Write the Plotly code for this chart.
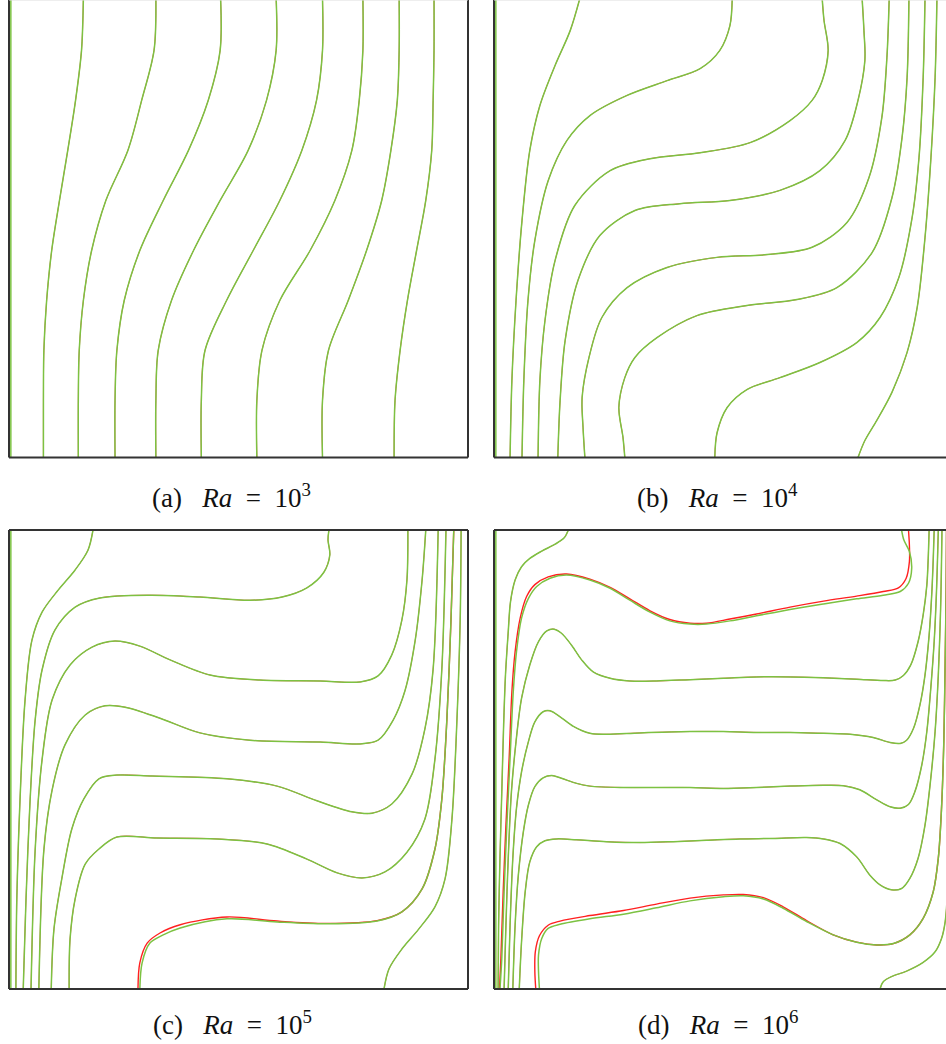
import plotly.graph_objects as go

GREEN = "#7cc242"
RED = "#ff2020"
BORDER = "#333333"

# ---------------- Panel (a)  Ra = 1e3 : isotherms sampled at common heights
A_Y = [1.0, 0.887, 0.778, 0.669, 0.560, 0.451, 0.342, 0.233, 0.124, 0.0]
A_X = [
    [0.162, 0.158, 0.145, 0.128, 0.110, 0.093, 0.082, 0.076, 0.075, 0.075],
    [0.320, 0.316, 0.289, 0.259, 0.211, 0.180, 0.162, 0.153, 0.151, 0.151],
    [0.461, 0.460, 0.434, 0.391, 0.336, 0.285, 0.251, 0.235, 0.231, 0.231],
    [0.582, 0.582, 0.561, 0.521, 0.460, 0.402, 0.354, 0.325, 0.320, 0.320],
    [0.683, 0.683, 0.670, 0.638, 0.590, 0.532, 0.474, 0.427, 0.419, 0.419],
    [0.771, 0.771, 0.763, 0.747, 0.710, 0.656, 0.590, 0.551, 0.540, 0.540],
    [0.850, 0.850, 0.846, 0.832, 0.812, 0.779, 0.739, 0.696, 0.683, 0.683],
    [0.926, 0.926, 0.924, 0.921, 0.908, 0.888, 0.868, 0.852, 0.841, 0.839],
]

# ---------------- Panel (b)  Ra = 1e4
B_X = [
    [0.187, 0.166, 0.133, 0.100, 0.078, 0.061, 0.048, 0.039, 0.035],
    [0.061, 0.065, 0.074, 0.089, 0.118, 0.159, 0.209, 0.290, 0.377, 0.449, 0.492, 0.514, 0.519],
    [0.096, 0.100, 0.111, 0.133, 0.176, 0.253, 0.340, 0.449, 0.558, 0.645, 0.693, 0.715, 0.728, 0.719, 0.715],
    [0.139, 0.144, 0.155, 0.183, 0.231, 0.307, 0.405, 0.514, 0.623, 0.710, 0.765, 0.793, 0.808, 0.806, 0.802],
    [0.198, 0.194, 0.192, 0.207, 0.235, 0.290, 0.377, 0.486, 0.595, 0.693, 0.769, 0.817, 0.845, 0.856, 0.861],
    [0.285, 0.281, 0.272, 0.285, 0.307, 0.355, 0.442, 0.551, 0.660, 0.747, 0.824, 0.867, 0.889, 0.900, 0.904],
    [0.481, 0.486, 0.508, 0.551, 0.623, 0.710, 0.791, 0.841, 0.882, 0.911, 0.926, 0.935, 0.939],
    [0.793, 0.808, 0.834, 0.867, 0.900, 0.922, 0.939, 0.952, 0.961, 0.965],
]
B_Y = [
    [1.0, 0.930, 0.854, 0.767, 0.669, 0.516, 0.342, 0.168, 0.0],
    [0.0, 0.168, 0.342, 0.473, 0.603, 0.691, 0.745, 0.789, 0.821, 0.847, 0.887, 0.941, 1.0],
    [0.0, 0.168, 0.298, 0.429, 0.549, 0.625, 0.651, 0.664, 0.686, 0.734, 0.778, 0.821, 0.887, 0.952, 1.0],
    [0.0, 0.124, 0.255, 0.386, 0.484, 0.538, 0.553, 0.560, 0.582, 0.625, 0.691, 0.778, 0.865, 0.930, 1.0],
    [0.0, 0.065, 0.131, 0.218, 0.305, 0.370, 0.414, 0.436, 0.442, 0.458, 0.512, 0.610, 0.741, 0.871, 1.0],
    [0.0, 0.044, 0.109, 0.174, 0.218, 0.261, 0.309, 0.331, 0.344, 0.370, 0.447, 0.566, 0.697, 0.828, 1.0],
    [0.0, 0.054, 0.109, 0.148, 0.174, 0.207, 0.251, 0.305, 0.392, 0.523, 0.654, 0.828, 1.0],
    [0.0, 0.037, 0.081, 0.142, 0.229, 0.327, 0.479, 0.654, 0.828, 1.0],
]

# ---------------- Panel (c)  Ra = 1e5
C_X = [
    [0.183, 0.172, 0.144, 0.107, 0.072, 0.050, 0.035, 0.024, 0.017, 0.015],
    [0.031, 0.037, 0.046, 0.057, 0.072, 0.100, 0.144, 0.198, 0.307, 0.416, 0.525, 0.595, 0.649, 0.686, 0.699, 0.695, 0.697],
    [0.048, 0.057, 0.072, 0.094, 0.133, 0.181, 0.231, 0.285, 0.351, 0.438, 0.547, 0.678, 0.765, 0.804, 0.834, 0.856, 0.867, 0.869],
    [0.065, 0.076, 0.094, 0.122, 0.166, 0.209, 0.253, 0.329, 0.416, 0.525, 0.678, 0.765, 0.804, 0.837, 0.863, 0.885, 0.900, 0.908],
    [0.092, 0.098, 0.115, 0.137, 0.163, 0.196, 0.235, 0.312, 0.475, 0.584, 0.671, 0.747, 0.791, 0.834, 0.878, 0.906, 0.924, 0.935],
    [0.131, 0.133, 0.144, 0.166, 0.196, 0.235, 0.322, 0.453, 0.562, 0.649, 0.715, 0.769, 0.819, 0.867, 0.906, 0.928, 0.943, 0.952],
    [0.285, 0.290, 0.307, 0.336, 0.373, 0.475, 0.584, 0.693, 0.802, 0.856, 0.900, 0.928, 0.943, 0.954, 0.963, 0.969],
    [0.817, 0.828, 0.856, 0.893, 0.928, 0.950, 0.965, 0.976, 0.983, 0.985],
]
C_Y = [
    [1.0, 0.956, 0.913, 0.869, 0.821, 0.760, 0.630, 0.412, 0.194, 0.0],
    [0.0, 0.194, 0.412, 0.586, 0.695, 0.782, 0.832, 0.852, 0.858, 0.854, 0.847, 0.854, 0.874, 0.908, 0.946, 0.978, 1.0],
    [0.0, 0.303, 0.499, 0.630, 0.706, 0.745, 0.758, 0.747, 0.717, 0.684, 0.673, 0.671, 0.669, 0.682, 0.728, 0.804, 0.891, 1.0],
    [0.0, 0.303, 0.434, 0.532, 0.597, 0.617, 0.614, 0.590, 0.558, 0.542, 0.538, 0.534, 0.542, 0.586, 0.651, 0.760, 0.891, 1.0],
    [0.0, 0.131, 0.240, 0.349, 0.414, 0.458, 0.466, 0.464, 0.458, 0.442, 0.410, 0.386, 0.383, 0.403, 0.468, 0.566, 0.697, 1.0],
    [0.0, 0.109, 0.196, 0.272, 0.305, 0.331, 0.329, 0.327, 0.316, 0.283, 0.253, 0.242, 0.255, 0.298, 0.370, 0.501, 0.697, 1.0],
    [0.0, 0.057, 0.100, 0.118, 0.133, 0.153, 0.146, 0.142, 0.148, 0.168, 0.218, 0.305, 0.414, 0.588, 0.806, 1.0],
    [0.0, 0.044, 0.087, 0.131, 0.179, 0.240, 0.370, 0.588, 0.806, 1.0],
]
# red solution where it visibly departs from the green one (lowest isotherm)
C_RED7_X = [0.281, 0.285, 0.301, 0.329, 0.373, 0.475, 0.584, 0.693, 0.802, 0.856, 0.900, 0.928, 0.943, 0.954, 0.963, 0.969]
C_RED7_Y = [0.0, 0.057, 0.100, 0.122, 0.140, 0.157, 0.148, 0.143, 0.149, 0.168, 0.218, 0.305, 0.414, 0.588, 0.806, 1.0]

# ---------------- Panel (d)  Ra = 1e6
D_X = [
    [0.162, 0.153, 0.133, 0.104, 0.078, 0.060, 0.046, 0.036, 0.031, 0.025, 0.021, 0.017, 0.013, 0.010, 0.009],
    [0.013, 0.017, 0.022, 0.028, 0.035, 0.042, 0.049, 0.060, 0.075, 0.093, 0.122, 0.158, 0.209, 0.253, 0.296, 0.340,
     0.383, 0.427, 0.463, 0.514, 0.572, 0.645, 0.718, 0.790, 0.848, 0.885, 0.903, 0.910, 0.905, 0.893, 0.888],
    [0.022, 0.026, 0.031, 0.038, 0.048, 0.060, 0.078, 0.097, 0.115, 0.131, 0.147, 0.169, 0.191, 0.216, 0.253, 0.296,
     0.354, 0.427, 0.500, 0.572, 0.645, 0.718, 0.790, 0.848, 0.874, 0.892, 0.908, 0.924, 0.935, 0.943, 0.946, 0.948],
    [0.031, 0.035, 0.041, 0.049, 0.060, 0.075, 0.089, 0.107, 0.122, 0.144, 0.173, 0.209, 0.245, 0.318, 0.427, 0.500,
     0.572, 0.645, 0.718, 0.776, 0.826, 0.863, 0.885, 0.899, 0.914, 0.928, 0.939, 0.948, 0.954, 0.957, 0.959],
    [0.041, 0.046, 0.053, 0.064, 0.075, 0.089, 0.107, 0.126, 0.147, 0.180, 0.209, 0.282, 0.354, 0.427, 0.500, 0.572,
     0.645, 0.718, 0.761, 0.797, 0.834, 0.863, 0.885, 0.903, 0.917, 0.932, 0.943, 0.951, 0.959, 0.964, 0.968],
    [0.055, 0.060, 0.068, 0.078, 0.093, 0.111, 0.137, 0.180, 0.245, 0.318, 0.391, 0.463, 0.536, 0.609, 0.681, 0.718,
     0.754, 0.790, 0.819, 0.841, 0.866, 0.888, 0.906, 0.924, 0.939, 0.950, 0.961, 0.968, 0.973, 0.976],
    [0.099, 0.097, 0.097, 0.104, 0.118, 0.144, 0.209, 0.282, 0.354, 0.427, 0.500, 0.543, 0.587, 0.630, 0.681, 0.739,
     0.790, 0.834, 0.870, 0.906, 0.935, 0.957, 0.968, 0.975, 0.980, 0.983, 0.985, 0.986],
    [0.841, 0.848, 0.866, 0.899, 0.935, 0.961, 0.975, 0.983, 0.988, 0.991, 0.993, 0.995, 0.996],
]
D_Y = [
    [1.0, 0.983, 0.969, 0.954, 0.938, 0.920, 0.891, 0.844, 0.778, 0.684, 0.575, 0.430, 0.285, 0.139, 0.0],
    [0.0, 0.067, 0.212, 0.357, 0.503, 0.648, 0.735, 0.808, 0.851, 0.877, 0.895, 0.902, 0.891, 0.873, 0.847, 0.821,
     0.802, 0.795, 0.795, 0.802, 0.813, 0.827, 0.839, 0.850, 0.858, 0.866, 0.884, 0.916, 0.953, 0.978, 1.0],
    [0.0, 0.139, 0.285, 0.430, 0.539, 0.633, 0.706, 0.757, 0.780, 0.784, 0.775, 0.749, 0.717, 0.691, 0.677, 0.671,
     0.671, 0.674, 0.677, 0.680, 0.680, 0.678, 0.675, 0.672, 0.673, 0.683, 0.706, 0.757, 0.815, 0.880, 0.938, 1.0],
    [0.0, 0.139, 0.285, 0.394, 0.473, 0.539, 0.582, 0.604, 0.606, 0.593, 0.572, 0.557, 0.555, 0.558, 0.561, 0.561,
     0.559, 0.559, 0.557, 0.555, 0.548, 0.537, 0.535, 0.542, 0.568, 0.619, 0.684, 0.771, 0.866, 0.938, 1.0],
    [0.0, 0.139, 0.248, 0.343, 0.401, 0.441, 0.460, 0.465, 0.459, 0.448, 0.442, 0.439, 0.439, 0.439, 0.437, 0.439,
     0.442, 0.444, 0.443, 0.434, 0.412, 0.397, 0.394, 0.402, 0.430, 0.488, 0.561, 0.648, 0.757, 0.866, 1.0],
    [0.0, 0.103, 0.212, 0.277, 0.310, 0.323, 0.327, 0.325, 0.321, 0.319, 0.321, 0.324, 0.327, 0.328, 0.330, 0.327,
     0.317, 0.288, 0.248, 0.227, 0.216, 0.219, 0.241, 0.285, 0.357, 0.444, 0.561, 0.684, 0.829, 1.0],
    [0.0, 0.038, 0.074, 0.110, 0.132, 0.141, 0.153, 0.163, 0.177, 0.192, 0.201, 0.203, 0.196, 0.176, 0.147, 0.118,
     0.102, 0.096, 0.099, 0.118, 0.154, 0.212, 0.285, 0.394, 0.539, 0.720, 0.866, 1.0],
    [0.0, 0.016, 0.027, 0.039, 0.058, 0.081, 0.110, 0.147, 0.212, 0.357, 0.575, 0.793, 1.0],
]
# red solution where it visibly departs from the green one
D_RED2_X = [0.012, 0.015, 0.020, 0.026, 0.033, 0.039, 0.046, 0.057, 0.071, 0.089, 0.118, 0.158, 0.209, 0.253, 0.296,
            0.340, 0.383, 0.427, 0.463, 0.514, 0.572, 0.645, 0.718, 0.790, 0.848, 0.881, 0.898, 0.905, 0.905, 0.903]
D_RED2_Y = [0.0, 0.067, 0.212, 0.357, 0.503, 0.648, 0.735, 0.808, 0.855, 0.881, 0.898, 0.904, 0.893, 0.875, 0.850,
            0.824, 0.805, 0.797, 0.797, 0.806, 0.817, 0.832, 0.845, 0.856, 0.866, 0.874, 0.895, 0.931, 0.967, 1.0]
D_RED7_X = [0.091, 0.089, 0.090, 0.099, 0.118, 0.144, 0.209, 0.282, 0.354, 0.427, 0.500, 0.543, 0.587, 0.630, 0.681,
            0.739, 0.790, 0.834, 0.870, 0.906, 0.935, 0.957, 0.968, 0.975, 0.980, 0.983, 0.985, 0.986]
D_RED7_Y = [0.0, 0.038, 0.081, 0.116, 0.139, 0.148, 0.160, 0.171, 0.185, 0.198, 0.205, 0.206, 0.199, 0.179, 0.149,
            0.118, 0.102, 0.096, 0.099, 0.118, 0.154, 0.212, 0.285, 0.394, 0.539, 0.720, 0.866, 1.0]

WALL_X = [0.004, 0.004]
WALL_Y = [0.0, 1.0]

CAPTIONS = ["(a)", "(b)", "(c)", "(d)"]
RA_EXP = ["3", "4", "5", "6"]

W, H = 946, 1044
fig = go.Figure()


def add_line(xs, ys, ax, color, width):
    fig.add_trace(go.Scatter(
        x=xs, y=ys, mode="lines",
        line=dict(color=color, width=width, shape="spline", smoothing=0.9),
        xaxis="x" + ax, yaxis="y" + ax, hoverinfo="skip", showlegend=False))


panels = [
    ("", A_X, [A_Y] * len(A_X), {}),
    ("2", B_X, B_Y, {}),
    ("3", C_X, C_Y, {6: (C_RED7_X, C_RED7_Y)}),
    ("4", D_X, D_Y, {1: (D_RED2_X, D_RED2_Y), 6: (D_RED7_X, D_RED7_Y)}),
]

for ax, xs_list, ys_list, red_override in panels:
    # red (reference solution) first, green on top
    for i, (xs, ys) in enumerate(zip(xs_list, ys_list)):
        if i in red_override:
            rx, ry = red_override[i]
            add_line(rx, ry, ax, RED, 1.4)
        else:
            add_line(xs, ys, ax, RED, 0.8)
    for xs, ys in zip(xs_list, ys_list):
        add_line(xs, ys, ax, GREEN, 1.5)
    add_line(WALL_X, WALL_Y, ax, GREEN, 1.5)

# layout: square cavities, right column cropped by the page edge
left_dom = [9 / W, 468 / W]
right_dom = [494 / W, 1.0]
top_dom = [1 - 457.5 / H, 1.0]
bot_dom = [1 - 989 / H, 1 - 530 / H]
right_range = [0, 452 / 459]

axis_common = dict(visible=False, fixedrange=True)
fig.update_layout(
    width=W, height=H,
    margin=dict(l=0, r=0, t=0, b=0),
    paper_bgcolor="white", plot_bgcolor="white",
    xaxis=dict(domain=left_dom, range=[0, 1], anchor="y", **axis_common),
    yaxis=dict(domain=top_dom, range=[0, 457.5 / 459], anchor="x", **axis_common),
    xaxis2=dict(domain=right_dom, range=right_range, anchor="y2", **axis_common),
    yaxis2=dict(domain=top_dom, range=[0, 457.5 / 459], anchor="x2", **axis_common),
    xaxis3=dict(domain=left_dom, range=[0, 1], anchor="y3", **axis_common),
    yaxis3=dict(domain=bot_dom, range=[0, 1], anchor="x3", **axis_common),
    xaxis4=dict(domain=right_dom, range=right_range, anchor="y4", **axis_common),
    yaxis4=dict(domain=bot_dom, range=[0, 1], anchor="x4", **axis_common),
)

shapes = []


def border(ax, x0, y0, x1, y1, color=BORDER, width=2):
    shapes.append(dict(type="line", xref="x" + ax + " domain", yref="y" + ax + " domain",
                       x0=x0, y0=y0, x1=x1, y1=y1, line=dict(color=color, width=width)))


for ax in ["", "2", "3", "4"]:
    border(ax, 0, 0, 0, 1)      # left wall
    border(ax, 0, 0, 1, 0)      # bottom wall
for ax in ["", "3"]:
    border(ax, 1, 0, 1, 1)      # right wall (visible on left column only)
for ax in ["3", "4"]:
    border(ax, 0, 1, 1, 1)      # top wall
for ax in ["", "2"]:
    border(ax, 0, 1, 1, 1, color="#dddddd", width=1)  # cropped top wall
fig.update_layout(shapes=shapes)

cap_pos = [(231, 496), (717, 496), (232, 1023), (718, 1023)]
annotations = []
for (cx, cy), lab, e in zip(cap_pos, CAPTIONS, RA_EXP):
    annotations.append(dict(
        xref="paper", yref="paper", x=cx / W, y=1 - cy / H,
        xanchor="center", yanchor="middle", showarrow=False,
        text=lab + "&nbsp;&nbsp;&nbsp;<i>Ra</i>&nbsp;&nbsp;=&nbsp;&nbsp;10<sup>" + e + "</sup>",
        font=dict(family="Liberation Serif", size=27, color="#111111")))
fig.update_layout(annotations=annotations)

fig.write_html("out.html", config={"displayModeBar": False, "staticPlot": True},
               post_script="document.body.style.margin='0';")
